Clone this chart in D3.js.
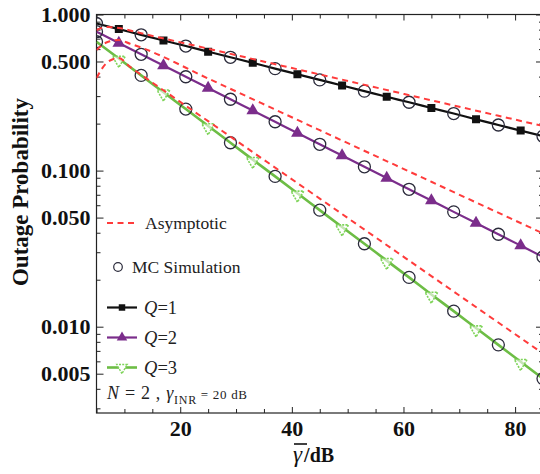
<!DOCTYPE html>
<html>
<head>
<meta charset="utf-8">
<script src="https://cdn.jsdelivr.net/npm/d3@7"></script>
<style>
  html, body { margin: 0; padding: 0; background: #fff; }
  svg { display: block; }
</style>
</head>
<body>
<svg id="chart" width="540" height="474"></svg>
<script>
// Average SNR grid (dB) of the analytical curves
const snrDb = [5, 9, 13, 17, 21, 25, 29, 33, 37, 41, 45, 49, 53, 57, 61, 65, 69, 73, 77, 81, 85];

// Analytical outage probability, Q = 1, 2, 3
const outageQ1 = [0.876, 0.806, 0.741, 0.682, 0.628, 0.578, 0.532, 0.490, 0.450, 0.414, 0.381,
                  0.351, 0.323, 0.297, 0.274, 0.252, 0.232, 0.213, 0.196, 0.1805, 0.166];
const outageQ2 = [0.776, 0.657, 0.556, 0.4714, 0.3993, 0.3382, 0.2865, 0.2426, 0.2055, 0.1740, 0.1474,
                  0.1249, 0.1058, 0.0896, 0.0759, 0.0643, 0.0544, 0.0461, 0.0391, 0.0331, 0.0280];
const outageQ3 = [0.669, 0.522, 0.4074, 0.3177, 0.2478, 0.1933, 0.1508, 0.1176, 0.0918, 0.0716, 0.0558,
                  0.0435, 0.0340, 0.0265, 0.0207, 0.0161, 0.01258, 0.00981, 0.00765, 0.00597, 0.00465];

// Monte-Carlo simulation points
const mcSnrDb = [5, 13, 21, 29, 37, 45, 53, 61, 69, 77, 85];
const mcQ1 = [0.876, 0.741, 0.628, 0.532, 0.450, 0.381, 0.323, 0.274, 0.232, 0.196, 0.166];
const mcQ2 = [0.776, 0.556, 0.3993, 0.2865, 0.2055, 0.1474, 0.1058, 0.0759, 0.0544, 0.0391, 0.0280];
const mcQ3 = [0.669, 0.4074, 0.2478, 0.1508, 0.0918, 0.0558, 0.0340, 0.0207, 0.01258, 0.00765, 0.00465];

// Asymptotic (high-SNR) approximation
const asymSnrDb = [5, 7, 9, 11, 13, 25, 45, 65, 85];
const asymQ1 = [0.796, 0.832, 0.819, 0.790, 0.759, 0.604, 0.413, 0.282, 0.193];
const asymQ2 = [0.592, 0.667, 0.686, 0.650, 0.614, 0.389, 0.1815, 0.0848, 0.0396];
const asymQ3 = [0.392, 0.496, 0.526, 0.4615, 0.411, 0.2073, 0.0662, 0.0211, 0.00673];

// Axis ticks
const xMajorTicks = [20, 40, 60, 80];
const xMinorTicks = [5, 10, 15, 25, 30, 35, 45, 50, 55, 65, 70, 75, 85];
const yMajorTicks = [1, 0.5, 0.1, 0.05, 0.01, 0.005];
const yMinorTicks = [0.9, 0.8, 0.7, 0.6, 0.4, 0.3, 0.2, 0.09, 0.08, 0.07, 0.06, 0.04, 0.03, 0.02,
                     0.009, 0.008, 0.007, 0.006, 0.004, 0.003];

const series = [
  { name: "Q=1", values: outageQ1, mc: mcQ1, asym: asymQ1, color: "#111111", marker: "square" },
  { name: "Q=2", values: outageQ2, mc: mcQ2, asym: asymQ2, color: "#7b2d8b", marker: "triangle" },
  { name: "Q=3", values: outageQ3, mc: mcQ3, asym: asymQ3, color: "#6dbd45", marker: "triangleDown" }
];

const serif = "'Liberation Serif', 'Times New Roman', 'DejaVu Serif', serif";
const asymColor = "#ff3b3b";
const mcColor = "#2b2b3b";

const svg = d3.select("#chart");
const plotLeft = 96.5, plotRight = 543, plotTop = 14.5, plotBottom = 413;

const x = d3.scaleLinear().domain([5, 85]).range([plotLeft, plotRight]);
const y = d3.scaleLog().domain([0.0028, 1]).range([plotBottom, plotTop]);

svg.append("defs").append("clipPath").attr("id", "plotClip")
  .append("rect").attr("x", plotLeft).attr("y", plotTop)
  .attr("width", plotRight - plotLeft).attr("height", plotBottom - plotTop);

// Axes with inward ticks on all four sides
function styleAxis(g) {
  g.select(".domain").remove();
  g.selectAll(".tick line").attr("stroke", "#222").attr("stroke-width", 1);
  g.selectAll(".tick text")
    .attr("font-family", serif).attr("font-weight", "bold")
    .attr("font-size", 22).attr("fill", "#111");
}

svg.append("g").attr("transform", `translate(0,${plotBottom})`)
  .call(d3.axisBottom(x).tickValues(xMinorTicks).tickSize(-4).tickFormat(""))
  .call(styleAxis);
svg.append("g").attr("transform", `translate(0,${plotBottom})`)
  .call(d3.axisBottom(x).tickValues(xMajorTicks).tickSize(-6).tickPadding(7).tickFormat(d3.format("d")))
  .call(styleAxis);
svg.append("g").attr("transform", `translate(0,${plotTop})`)
  .call(d3.axisTop(x).tickValues(xMinorTicks).tickSize(-4).tickFormat(""))
  .call(styleAxis);
svg.append("g").attr("transform", `translate(0,${plotTop})`)
  .call(d3.axisTop(x).tickValues(xMajorTicks).tickSize(-6).tickFormat(""))
  .call(styleAxis);

svg.append("g").attr("transform", `translate(${plotLeft},0)`)
  .call(d3.axisLeft(y).tickValues(yMinorTicks).tickSize(-4).tickFormat(""))
  .call(styleAxis);
svg.append("g").attr("transform", `translate(${plotLeft},0)`)
  .call(d3.axisLeft(y).tickValues(yMajorTicks).tickSize(-7).tickPadding(6).tickFormat(d3.format(".3f")))
  .call(styleAxis);
svg.append("g").attr("transform", `translate(${plotRight},0)`)
  .call(d3.axisRight(y).tickValues(yMinorTicks).tickSize(-4).tickFormat(""))
  .call(styleAxis);
svg.append("g").attr("transform", `translate(${plotRight},0)`)
  .call(d3.axisRight(y).tickValues(yMajorTicks).tickSize(-7).tickFormat(""))
  .call(styleAxis);

// Frame
svg.append("rect").attr("x", plotLeft).attr("y", plotTop)
  .attr("width", plotRight - plotLeft).attr("height", plotBottom - plotTop)
  .attr("fill", "none").attr("stroke", "#222").attr("stroke-width", 1.2);

const plot = svg.append("g").attr("clip-path", "url(#plotClip)");

const line = d3.line().curve(d3.curveMonotoneX);

function markerPath(kind, size) {
  if (kind === "square") return d3.symbol(d3.symbolSquare, size)();
  return d3.symbol(d3.symbolTriangle, size)();
}

// Analytical curves with markers
series.forEach(s => {
  plot.append("path")
    .attr("d", line(snrDb.map((d, i) => [x(d), y(s.values[i])])))
    .attr("fill", "none").attr("stroke", s.color)
    .attr("stroke-width", s.marker === "triangleDown" ? 2.6 : 2.2);

  const pts = snrDb.map((d, i) => ({ x: d, v: s.values[i], i })).filter(p => p.i % 2 === 1);
  const mk = plot.selectAll(null).data(pts).enter().append("path")
    .attr("d", markerPath(s.marker, s.marker === "square" ? 64 : 70));
  if (s.marker === "triangleDown") {
    mk.attr("transform", p => `translate(${x(p.x)},${y(p.v) + 1.5}) rotate(180)`)
      .attr("fill", "#ffffff").attr("fill-opacity", 0.6)
      .attr("stroke", "#7fd45a").attr("stroke-width", 1.6)
      .attr("stroke-dasharray", "2,1.2");
  } else {
    mk.attr("transform", p => `translate(${x(p.x)},${y(p.v)})`)
      .attr("fill", s.color);
  }
});

// Monte-Carlo circles
series.forEach(s => {
  plot.selectAll(null).data(mcSnrDb.map((d, i) => [d, s.mc[i]])).enter()
    .append("circle")
    .attr("cx", d => x(d[0])).attr("cy", d => y(d[1])).attr("r", 6)
    .attr("fill", "none").attr("stroke", mcColor).attr("stroke-width", 1.3);
});

// Asymptotic curves
series.forEach(s => {
  plot.append("path")
    .attr("d", line(asymSnrDb.map((d, i) => [x(d), y(s.asym[i])])))
    .attr("fill", "none").attr("stroke", asymColor)
    .attr("stroke-width", 2).attr("stroke-dasharray", "6,4.5");
});

// Axis titles
svg.append("text")
  .attr("transform", "translate(28,192) rotate(-90)")
  .attr("text-anchor", "middle")
  .attr("font-family", serif).attr("font-weight", "bold").attr("font-size", 23)
  .attr("fill", "#111")
  .text("Outage Probability");

const xTitle = svg.append("text")
  .attr("x", 293).attr("y", 462)
  .attr("font-family", serif).attr("fill", "#111");
xTitle.append("tspan").attr("font-style", "italic").attr("font-size", 23).text("γ");
xTitle.append("tspan").attr("font-weight", "bold").attr("font-size", 20).attr("dx", 2).text("/dB");
svg.append("line")
  .attr("x1", 294).attr("x2", 307).attr("y1", 444).attr("y2", 444)
  .attr("stroke", "#111").attr("stroke-width", 1.6);

// Legend
const lg = svg.append("g");
lg.append("line").attr("x1", 107).attr("x2", 137).attr("y1", 223).attr("y2", 223)
  .attr("stroke", asymColor).attr("stroke-width", 2).attr("stroke-dasharray", "6,4.5");
lg.append("text").attr("x", 145).attr("y", 229)
  .attr("font-family", serif).attr("font-size", 17.5).attr("fill", "#222").text("Asymptotic");

lg.append("circle").attr("cx", 118).attr("cy", 267).attr("r", 4.3)
  .attr("fill", "none").attr("stroke", mcColor).attr("stroke-width", 1.2);
lg.append("text").attr("x", 132).attr("y", 273)
  .attr("font-family", serif).attr("font-size", 17.5).attr("fill", "#222").text("MC Simulation");

const legendRows = [307.5, 337.5, 367.5];
series.forEach((s, k) => {
  const yy = legendRows[k];
  lg.append("line").attr("x1", 107).attr("x2", 137).attr("y1", yy).attr("y2", yy)
    .attr("stroke", s.color).attr("stroke-width", s.marker === "triangleDown" ? 2.6 : 2.2);
  const m = lg.append("path").attr("d", markerPath(s.marker, s.marker === "square" ? 42 : 48));
  if (s.marker === "triangleDown") {
    m.attr("transform", `translate(122,${yy}) rotate(180)`)
      .attr("fill", "#fff").attr("stroke", "#7fd45a").attr("stroke-width", 1.4)
      .attr("stroke-dasharray", "2,1.2");
  } else {
    m.attr("transform", `translate(122,${yy})`).attr("fill", s.color);
  }
  const t = lg.append("text").attr("x", 144).attr("y", yy + 6)
    .attr("font-family", serif).attr("font-size", 18.5).attr("fill", "#222");
  const parts = s.name.split("=");
  t.append("tspan").attr("font-style", "italic").text(parts[0]);
  t.append("tspan").text("=" + parts[1]);
});

const note = lg.append("text").attr("x", 107).attr("y", 399)
  .attr("font-family", serif).attr("fill", "#222")
  .attr("textLength", 140).attr("lengthAdjust", "spacing");
note.append("tspan").attr("font-style", "italic").attr("font-size", 18).text("N");
note.append("tspan").attr("font-size", 18).text(" = 2 , ");
note.append("tspan").attr("font-style", "italic").attr("font-size", 18).text("γ");
note.append("tspan").attr("font-size", 12).attr("dy", 5).text("INR");
note.append("tspan").attr("font-size", 13).attr("dy", -5).text(" = 20 dB");
</script>
</body>
</html>
